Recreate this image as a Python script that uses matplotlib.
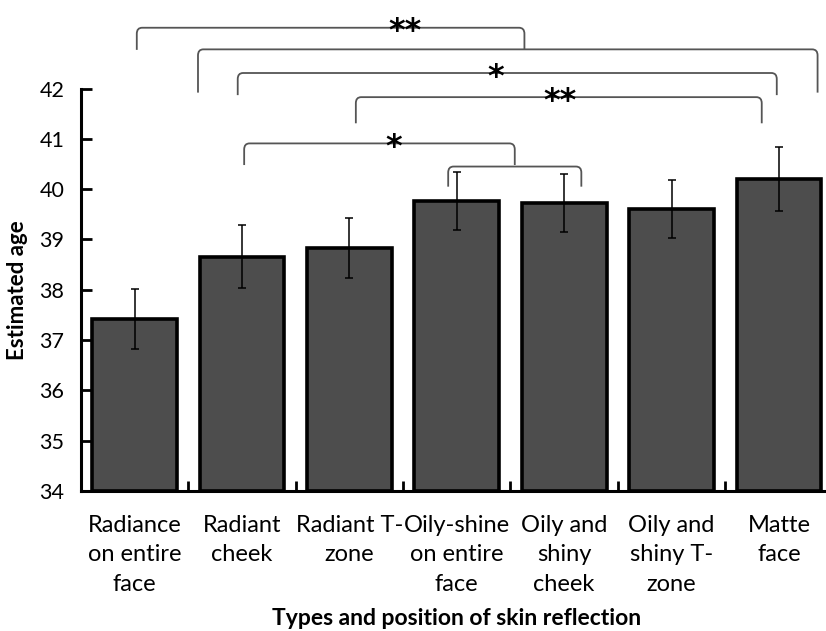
import matplotlib.pyplot as plt
from matplotlib.path import Path
from matplotlib.patches import PathPatch

plt.rcParams['font.family'] = ['Lato', 'DejaVu Sans']

# Data
categories = ['Radiance\non entire\nface', 'Radiant\ncheek', 'Radiant T-\nzone',
              'Oily-shine\non entire\nface', 'Oily and\nshiny\ncheek',
              'Oily and\nshiny T-\nzone', 'Matte\nface']
mean_age = [37.42, 38.66, 38.83, 39.77, 39.73, 39.61, 40.20]
err_age = [0.59, 0.63, 0.60, 0.58, 0.58, 0.58, 0.64]
y_ticks = [34, 35, 36, 37, 38, 39, 40, 41, 42]

# significance brackets: (left x, right x, top y, bottom of arms, label, label x)
brackets = [
    (0.02, 3.63, 43.21, 42.77, '**', 2.52),
    (0.59, 6.36, 42.78, 41.92, '', None),
    (0.96, 5.98, 42.31, 41.87, '*', 3.36),
    (2.06, 5.84, 41.83, 41.31, '**', 3.96),
    (1.02, 3.54, 40.91, 40.48, '*', 2.41),
    (2.92, 4.16, 40.45, 40.05, '', None),
]

fig = plt.figure(figsize=(8.26, 6.31), dpi=100)
ax = fig.add_axes([0.098, 0.222, 0.910, 0.6376])

x = list(range(len(categories)))
ax.bar(x, [m - 34 for m in mean_age], bottom=34, width=0.79, color='#4d4d4d',
       edgecolor='black', linewidth=2.6, zorder=2)
ax.errorbar(x, mean_age, yerr=err_age, fmt='none', ecolor='black',
            elinewidth=1.1, capsize=3, capthick=1.1, zorder=3)

ax.set_xlim(-0.5, 6.5)
ax.set_ylim(34, 42)
ax.set_yticks(y_ticks)
ax.set_xticks(x)
ax.set_xticklabels(categories, fontsize=17, linespacing=1.5)
ax.set_xticks([i + 0.5 for i in range(6)], minor=True)
ax.tick_params(axis='x', which='major', length=0, pad=17)
ax.tick_params(axis='x', which='minor', direction='in', length=7, width=2)
ax.tick_params(axis='y', direction='in', length=8, width=2, labelsize=15.5, pad=12)

for side in ['top', 'right']:
    ax.spines[side].set_visible(False)
for side in ['left', 'bottom']:
    ax.spines[side].set_linewidth(2.2)

ax.set_ylabel('Estimated age', fontsize=16, fontweight='bold', labelpad=8)
ax.set_xlabel('Types and position of skin reflection', fontsize=16.5,
              fontweight='bold', labelpad=10)

# brackets with slightly rounded corners
rx, ry = 0.05, 0.12
for x0, x1, top, bot, label, lx in brackets:
    verts = [(x0, bot), (x0, top - ry), (x0, top), (x0 + rx, top),
             (x1 - rx, top), (x1, top), (x1, top - ry), (x1, bot)]
    codes = [Path.MOVETO, Path.LINETO, Path.CURVE3, Path.CURVE3,
             Path.LINETO, Path.CURVE3, Path.CURVE3, Path.LINETO]
    ax.add_patch(PathPatch(Path(verts, codes), facecolor='none',
                           edgecolor='#555555', linewidth=1.3, clip_on=False))
    if label:
        ax.annotate(label, (lx, top), xytext=(0, -9), textcoords='offset points',
                    ha='center', va='baseline', fontsize=23, family='DejaVu Sans',
                    fontweight='bold', color='black', annotation_clip=False)

fig.savefig('out.png', dpi=100)
